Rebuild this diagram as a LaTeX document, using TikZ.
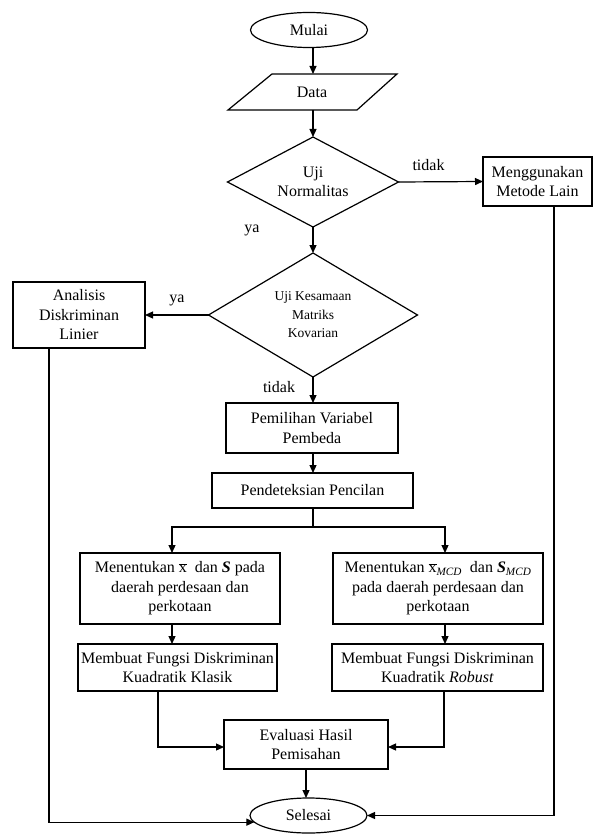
\documentclass[tikz,border=0pt]{standalone}
\usepackage{fontspec}
\setmainfont{Liberation Serif}
\usetikzlibrary{shapes.geometric,arrows.meta,calc}
\begin{document}
\begin{tikzpicture}[x=1pt,y=-1pt,
  font=\fontsize{16}{19.5}\selectfont,
  every node/.style={inner sep=0pt, outer sep=0pt},
  box/.style={draw, line width=1.2pt, align=center, rectangle},
  term/.style={draw, ellipse, line width=1.2pt, minimum width=117pt, minimum height=35pt},
  dec/.style={draw, diamond, line width=1.2pt, align=center},
  arr/.style={-{Triangle[length=8pt,width=7pt]}, line width=1.2pt},
  ln/.style={line width=1.2pt}]
\useasboundingbox (0,0) rectangle (595,834);

% column helper coordinates
\coordinate (cX) at (313,0);
\coordinate (rX) at (554,0);
\coordinate (lX) at (49,0);
\coordinate (laX) at (172,0);
\coordinate (raX) at (445,0);
\coordinate (lbX) at (158,0);
\coordinate (rbX) at (444,0);

% start
\node[term] (mulai) at (309,30) {Mulai};

% data (parallelogram)
\node (data) at (312,92) {Data};
\coordinate (dTop) at (313,74);
\coordinate (dBot) at (313,110);
\draw[ln] (228,110) -- (272,74) -- (397,74) -- (357,110) -- cycle;

% decision 1
\node[dec, minimum width=171pt, minimum height=90pt, shape aspect=1.9] (uji1) at (313,182) {Uji\\Normalitas};

% other method
\node[box, minimum width=109pt, minimum height=49pt] (metode) at (537.5,181.5) {Menggunakan\\Metode Lain};

% decision 2
\node[dec, minimum width=209pt, minimum height=124pt, shape aspect=1.69,
      font=\fontsize{13.5}{18.5}\selectfont] (uji2) at (313,315) {Uji Kesamaan\\Matriks\\Kovarian};

% LDA
\node[box, minimum width=132pt, minimum height=66pt] (analisis) at (79,315) {Analisis\\Diskriminan\\Linier};

% variable selection
\node[box, minimum width=172pt, minimum height=50pt] (pilih) at (312,428) {Pemilihan Variabel\\Pembeda};

% outlier detection
\node[box, minimum width=201pt, minimum height=35pt] (deteksi) at (312.5,490.5) {Pendeteksian Pencilan};
\coordinate (split) at (313,527);

% estimation boxes
\node[box, minimum width=200pt, minimum height=71pt] (left1) at (180,588.5)
  {Menentukan $\overline{\mbox{x}}$\ \ dan \textbf{\textit{S}} pada\\daerah perdesaan dan\\perkotaan};
\node[box, minimum width=210pt, minimum height=71pt] (right1) at (438,588.5)
  {Menentukan $\overline{\mbox{x}}$\textsubscript{\textit{MCD}}\ \ dan \textbf{\textit{S}}\textsubscript{\textit{MCD}}\\pada daerah perdesaan dan\\perkotaan};

% function boxes
\node[box, minimum width=199pt, minimum height=47pt] (left2) at (177.5,667.5)
  {Membuat Fungsi Diskriminan\\Kuadratik Klasik};
\node[box, minimum width=211pt, minimum height=47pt] (right2) at (437.5,667.5)
  {Membuat Fungsi Diskriminan\\Kuadratik \textit{Robust}};

% evaluation
\node[box, minimum width=164pt, minimum height=49pt] (eval) at (306,744.5) {Evaluasi Hasil\\Pemisahan};

% end
\node[term] (selesai) at (308.5,815.5) {Selesai};

% labels
\node (t1) at (428.5,165) {tidak};
\node (y1) at (252,230) {ya};
\node (y2) at (177,300) {ya};
\node (t2) at (279,387) {tidak};

% connectors
\draw[arr] (mulai.south -| dTop) -- (dTop);
\draw[arr] (dBot) -- (uji1.north);
\draw[arr] (uji1.east) -- (metode.west);
\draw[arr] (uji1.south) -- (uji2.north);
\draw[arr] (uji2.west) -- (analisis.east);
\draw[arr] (uji2.south) -- (pilih.north -| uji2.south);
\draw[arr] (pilih.south -| cX) -- (deteksi.north -| cX);
\draw[ln] (deteksi.south -| cX) -- (split);
\draw[arr] (split) -| (left1.north -| laX);
\draw[arr] (split) -| (right1.north -| raX);
\draw[arr] (left1.south -| laX) -- (left2.north -| laX);
\draw[arr] (right1.south -| raX) -- (right2.north -| raX);
\draw[arr] (left2.south -| lbX) |- ($(eval.west)+(0,2.5)$);
\draw[arr] (right2.south -| rbX) |- ($(eval.east)+(0,2.5)$);
\draw[arr] (eval.south) -- (eval.south |- selesai.north);
\draw[arr] (analisis.south -| lX) |- (selesai.187);
\draw[arr] (metode.south -| rX) |- (selesai.east);
\end{tikzpicture}
\end{document}
